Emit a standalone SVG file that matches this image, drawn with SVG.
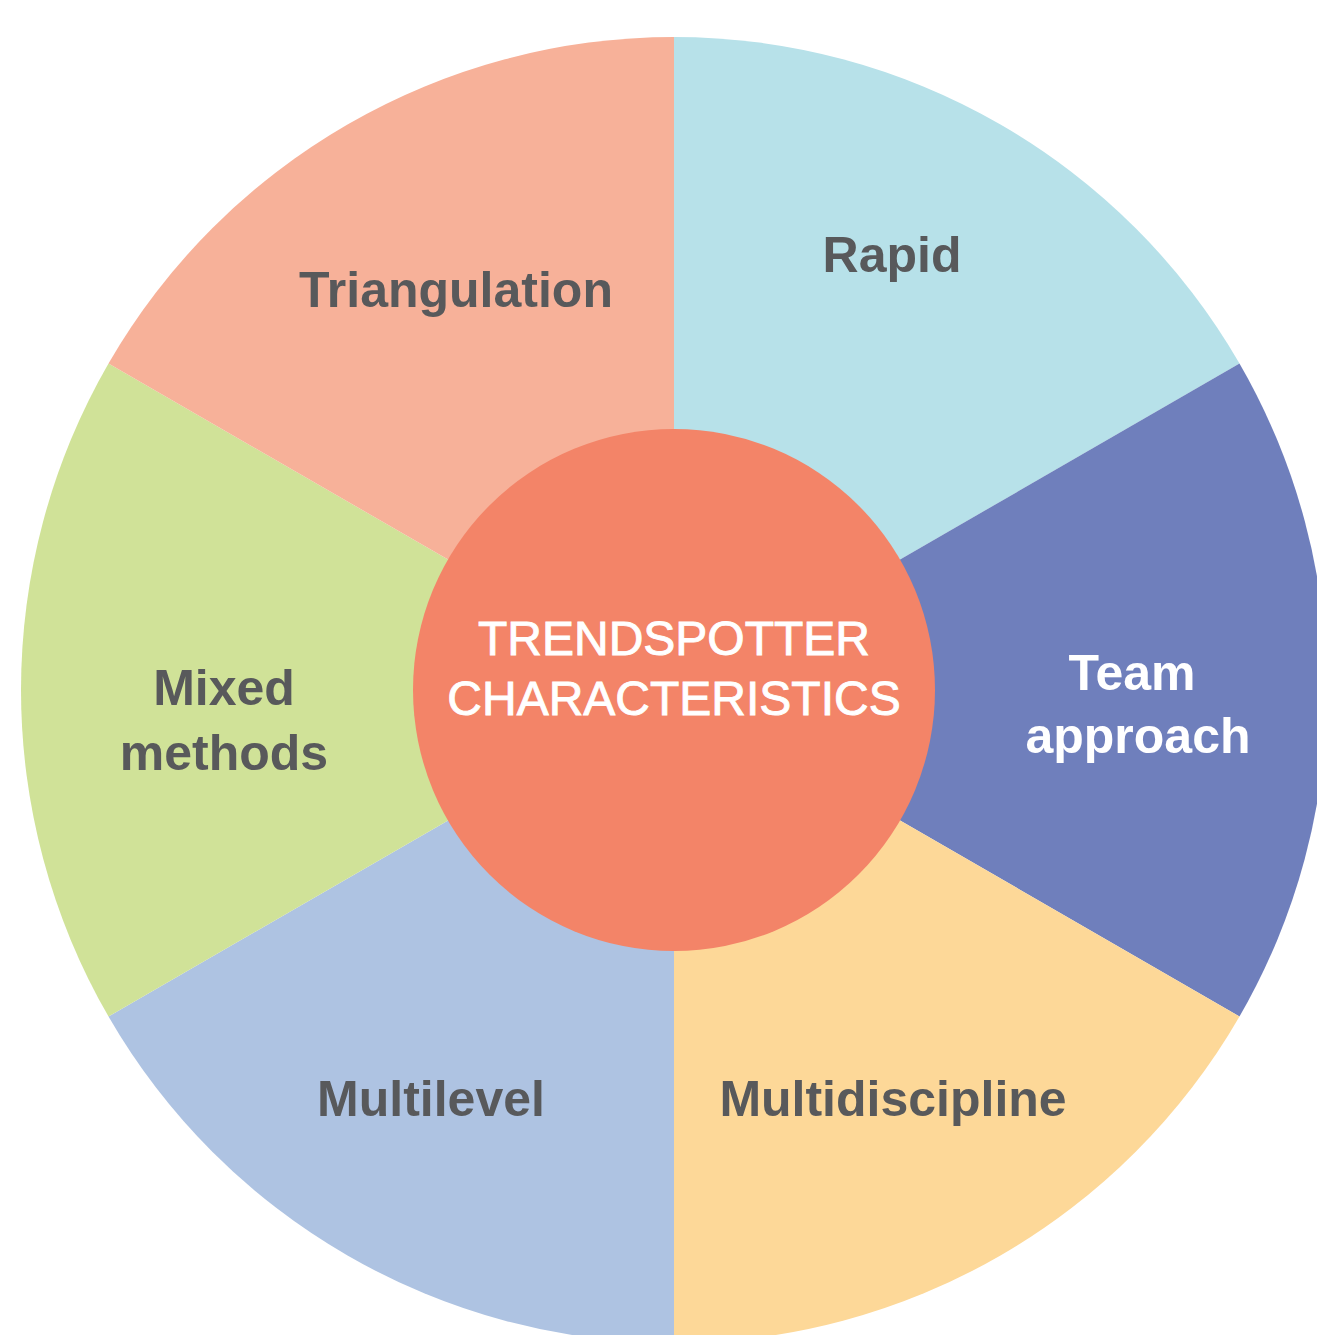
<svg xmlns="http://www.w3.org/2000/svg" width="1317" height="1335" viewBox="0 0 1317 1335">
<style>
.lbl{font-family:"Liberation Sans",Arial,sans-serif;font-weight:bold;font-size:50px;fill:#58595B;text-anchor:middle}
.lblw{font-family:"Liberation Sans",Arial,sans-serif;font-weight:bold;font-size:50px;fill:#FFFFFF;text-anchor:middle}
.ctr{font-family:"Liberation Sans",Arial,sans-serif;font-size:48px;fill:#FFFFFF;stroke:#FFFFFF;stroke-width:0.9px;text-anchor:middle}
</style>
<rect width="1317" height="1335" fill="#FFFFFF"/>
<g id="rapid">
<path d="M674,690 L674,37 A653,653 0 0 1 1239.5,363.5 Z" fill="#B7E1E9"/>
<text class="lbl" x="892" y="272">Rapid</text>
</g>
<g id="team-approach">
<path d="M674,690 L1239.5,363.5 A653,653 0 0 1 1239.5,1016.5 Z" fill="#6F7FBC"/>
<text class="lblw" x="1132" y="690">Team</text>
<text class="lblw" x="1138" y="753">approach</text>
</g>
<g id="multidiscipline">
<path d="M674,690 L1239.5,1016.5 A653,653 0 0 1 674,1343 Z" fill="#FDD898"/>
<text class="lbl" x="893" y="1116">Multidiscipline</text>
</g>
<g id="multilevel">
<path d="M674,690 L674,1343 A653,653 0 0 1 108.5,1016.5 Z" fill="#AEC3E2"/>
<text class="lbl" x="431" y="1116">Multilevel</text>
</g>
<g id="mixed-methods">
<path d="M674,690 L108.5,1016.5 A653,653 0 0 1 108.5,363.5 Z" fill="#D0E298"/>
<text class="lbl" x="224" y="705">Mixed</text>
<text class="lbl" x="224" y="770">methods</text>
</g>
<g id="triangulation">
<path d="M674,690 L108.5,363.5 A653,653 0 0 1 674,37 Z" fill="#F7B199"/>
<text class="lbl" x="456" y="307">Triangulation</text>
</g>
<g id="center">
<circle cx="674" cy="690" r="261" fill="#F38468"/>
<text class="ctr" x="674" y="655">TRENDSPOTTER</text>
<text class="ctr" x="674" y="715">CHARACTERISTICS</text>
</g>
<g id="connectors"></g>
</svg>
